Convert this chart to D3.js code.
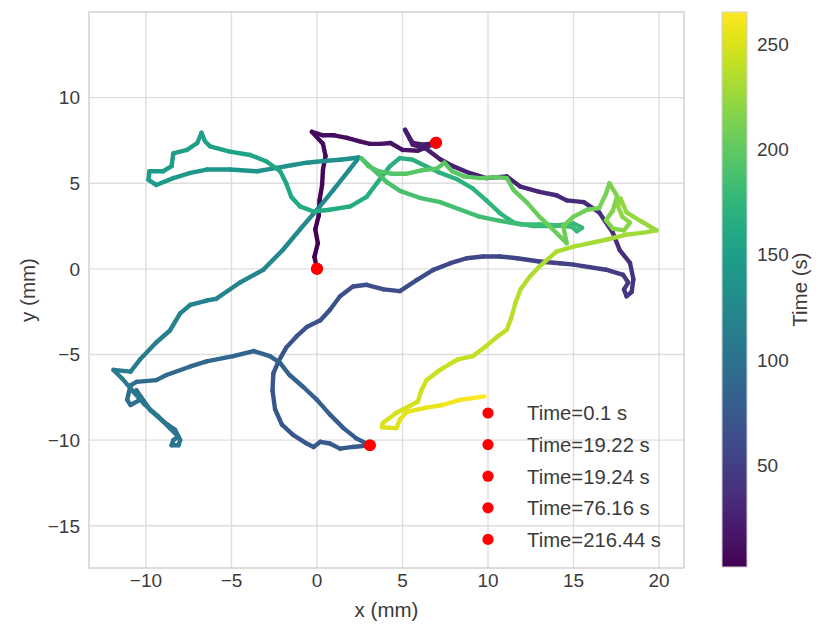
<!DOCTYPE html>
<html>
<head>
<meta charset="utf-8">
<script src="https://cdn.jsdelivr.net/npm/d3@7"></script>
<style>
  body { margin: 0; background: #fff; }
  text { font-family: "Liberation Sans", Arial, sans-serif; fill: #3b3b3b; }
</style>
</head>
<body>
<div id="chart"></div>
<script>
'use strict';

// trajectory (time in s, position in mm)
var pathT = [0.1, 0.9, 1.7, 2.5, 3.3, 4.1, 4.9, 5.7, 6.5, 7.3, 8.1, 8.9, 9.7, 10.5, 11.3, 12.1, 12.9, 13.7, 14.7, 16.0,
  17.4, 19.22, 19.24, 20.0, 20.6, 21.2, 21.9, 22.7, 23.7, 24.7, 25.8, 26.8, 27.9, 29.0, 30.2, 31.4, 32.4, 33.6, 35.0, 36.6,
  38.0, 39.4, 40.8, 42.0, 42.8, 43.6, 44.6, 46.0, 48.0, 50.5, 51.8, 53.2, 54.8, 56.0, 57.2, 58.4, 59.6, 60.8, 62.0, 63.0,
  63.9, 64.8, 65.6, 66.4, 67.2, 67.9, 68.6, 69.2, 69.8, 70.4, 71.0, 71.6, 72.2, 72.8, 73.4, 74.0, 74.4, 74.8, 75.2, 75.5,
  75.8, 76.16, 77.2, 78.3, 79.4, 80.5, 81.6, 82.7, 83.7, 84.6, 85.8, 87.2, 89.0, 90.2, 91.8, 92.6, 93.8, 94.4, 95.4, 96.0,
  96.6, 97.2, 98.6, 99.8, 101.0, 102.0, 102.6, 103.2, 103.8, 104.4, 105.4, 106.6, 107.8, 109.0, 110.0, 110.8, 111.6, 112.6, 114.0, 115.2,
  116.4, 117.4, 118.6, 119.2, 121.0, 122.6, 124.0, 125.4, 126.8, 128.0, 129.4, 130.4, 131.8, 133.0, 134.2, 135.2, 136.2, 137.6, 139.4, 141.0,
  142.2, 143.4, 144.6, 145.2, 145.8, 146.6, 147.2, 148.0, 149.0, 149.8, 150.5, 151.1, 151.6, 153.0, 154.4, 155.6, 156.8, 157.8, 158.8, 159.8,
  160.8, 162.0, 163.4, 164.6, 165.6, 166.8, 167.6, 168.4, 169.2, 170.0, 171.0, 172.0, 173.0, 174.0, 175.0, 176.2, 177.4, 178.6, 179.2, 179.8,
  180.4, 181.4, 182.2, 183.2, 184.2, 185.2, 186.2, 187.2, 188.2, 189.2, 189.9, 190.6, 191.3, 192.0, 192.8, 193.8, 194.8, 195.8, 196.8, 197.4,
  198.0, 198.8, 199.8, 200.8, 201.5, 202.3, 203.3, 204.3, 205.3, 206.3, 207.2, 208.0, 209.0, 210.0, 211.5, 212.5, 213.8, 215.0, 216.0, 216.44,
  217.8, 218.8, 219.8, 220.8, 221.6, 222.6, 224.0, 225.4, 226.6, 227.8, 229.2, 231.0, 232.2, 233.6, 234.6, 235.6, 236.6, 237.6, 238.4, 239.4,
  240.4, 241.6, 242.6, 243.8, 245.0, 246.0, 247.0, 248.0, 249.0, 250.2, 250.8, 251.8, 252.6, 253.4, 255.5, 258.0, 260.5, 263.0, 265.2];
var pathX = [0, -0.15, 0.05, -0.1, 0.1, 0.15, 0.3, 0.35, 0.5, 0.35, -0.3, 0.35, 1.0, 1.75, 2.5, 3.1, 3.7, 4.3, 5.0, 5.9,
  6.4, 6.96, 6.96, 6.2, 5.6, 5.15, 5.6, 6.4, 7.2, 7.95, 8.9, 9.9, 11.1, 11.9, 13.0, 14.0, 14.6, 15.6, 16.5, 17.3,
  17.7, 18.3, 18.5, 18.4, 18.1, 17.95, 18.2, 17.9, 16.9, 15.0, 14.2, 13.0, 11.7, 10.7, 9.7, 8.75, 7.8, 6.8, 5.85, 4.85,
  3.9, 2.9, 2.1, 1.35, 0.75, 0.2, -0.6, -1.2, -1.8, -2.25, -2.55, -2.6, -2.45, -2.05, -1.4, -0.6, -0.2, 0.2, 0.75, 1.35,
  2.1, 3.1, 2.3, 1.55, 0.75, 0.0, -0.8, -1.6, -2.15, -2.75, -3.7, -4.9, -6.45, -7.4, -8.8, -9.4, -10.55, -10.9, -11.1, -10.9,
  -10.35, -10.55, -9.75, -9.0, -8.3, -8.0, -8.1, -8.5, -8.4, -8.1, -8.6, -9.3, -10.1, -10.8, -11.4, -11.9, -10.9, -10.35, -9.4, -8.6,
  -8.0, -7.4, -6.45, -5.9, -4.5, -3.15, -2.0, -1.0, 0.0, 0.95, 1.9, 2.45, 1.35, 0.4, -0.6, -1.5, -2.35, -3.5, -5.1, -6.45,
  -7.4, -8.4, -9.4, -9.85, -9.8, -9.0, -8.5, -8.4, -7.6, -7.0, -6.75, -6.55, -6.25, -5.1, -3.9, -2.95, -2.15, -1.8, -1.5, -1.0,
  -0.2, 0.75, 1.95, 2.9, 3.5, 4.27, 4.85, 5.6, 6.4, 7.1, 8.15, 9.1, 9.9, 10.7, 11.5, 12.65, 13.8, 15.0, 15.5, 15.2,
  14.9, 13.9, 13.0, 11.9, 10.7, 9.5, 8.4, 7.2, 6.0, 4.85, 4.1, 3.3, 2.6, 3.0, 3.6, 4.4, 5.2, 6.1, 7.0, 7.45,
  7.9, 8.6, 9.5, 10.5, 11.1, 11.5, 12.3, 13.0, 13.8, 14.6, 14.4, 15.0, 15.8, 16.5, 16.9, 17.1, 17.55, 17.3, 16.9, 17.3,
  17.95, 18.3, 17.85, 17.6, 17.75, 18.1, 19.0, 19.85, 19.0, 18.1, 16.9, 15.0, 14.0, 13.0, 12.45, 11.9, 11.6, 11.35, 11.1, 10.5,
  9.9, 9.1, 8.2, 7.2, 6.4, 6.1, 5.9, 5.25, 4.65, 3.85, 3.8, 4.65, 4.85, 5.25, 6.4, 7.35, 8.35, 9.1, 9.8];
var pathY = [0, 0.7, 1.5, 2.3, 3.1, 4.0, 4.9, 5.8, 6.6, 7.3, 8.0, 7.8, 7.8, 7.65, 7.45, 7.3, 7.3, 7.35, 6.95, 6.9,
  7.1, 7.36, 7.36, 7.25, 7.35, 8.12, 7.25, 7.0, 6.4, 6.0, 5.6, 5.3, 5.4, 4.8, 4.5, 4.3, 4.0, 3.9, 3.3, 2.1,
  1.1, 0.35, -0.6, -1.35, -1.6, -1.2, -0.8, -0.35, -0.05, 0.25, 0.33, 0.43, 0.62, 0.72, 0.72, 0.62, 0.33, -0.06, -0.64, -1.3,
  -1.2, -0.93, -1.03, -1.6, -2.4, -3.0, -3.4, -3.95, -4.6, -5.4, -6.1, -7.1, -8.2, -9.1, -9.7, -10.2, -10.4, -10.1, -10.2, -10.5,
  -10.4, -10.3, -9.9, -9.3, -8.5, -7.65, -6.9, -6.2, -5.5, -5.1, -4.8, -5.1, -5.4, -5.7, -6.2, -6.5, -6.6, -6.8, -7.65, -7.95,
  -7.65, -7.1, -8.25, -8.9, -9.4, -10.0, -10.3, -10.3, -10.0, -9.8, -9.3, -8.6, -7.9, -7.1, -6.4, -5.9, -6.0, -5.3, -4.3, -3.6,
  -2.6, -2.1, -1.85, -1.75, -0.8, -0.06, 1.1, 2.3, 3.45, 4.6, 5.8, 6.5, 6.37, 6.3, 6.2, 6.05, 5.9, 5.7, 5.8, 5.8,
  5.6, 5.3, 4.9, 5.2, 5.7, 5.7, 6.0, 6.75, 6.95, 7.35, 7.95, 7.45, 7.15, 6.85, 6.65, 6.27, 5.7, 5.0, 4.2, 3.65,
  3.35, 3.45, 3.65, 4.2, 5.0, 6.0, 6.47, 6.37, 5.98, 5.65, 5.25, 4.7, 4.0, 3.25, 2.7, 2.5, 2.5, 2.65, 2.4, 2.2,
  2.45, 2.55, 2.6, 2.6, 2.8, 3.05, 3.45, 3.9, 4.15, 4.55, 5.05, 5.8, 6.45, 6.0, 5.7, 5.55, 5.55, 5.75, 5.85, 6.2,
  5.7, 5.4, 5.3, 5.35, 5.3, 4.6, 3.85, 3.05, 2.3, 1.5, 2.5, 3.05, 3.45, 3.55, 4.4, 5.0, 4.25, 3.4, 2.85, 2.35,
  2.25, 2.7, 3.05, 3.65, 4.1, 3.3, 2.75, 2.25, 2.1, 2.0, 1.7, 1.3, 1.0, 0.13, -0.45, -1.2, -2.0, -2.9, -3.55, -4.0,
  -4.5, -5.1, -5.3, -5.9, -6.5, -7.1, -7.75, -8.1, -8.4, -9.0, -9.25, -9.3, -8.8, -8.35, -8.1, -7.95, -7.65, -7.55, -7.45];

// marked instants
var eventT = [0.1, 19.22, 19.24, 76.16, 216.44];
var eventX = [0, 6.96, 6.96, 3.1, 0];
var eventY = [0, 7.36, 7.36, -10.3, 0];

var xTicks = [-10, -5, 0, 5, 10, 15, 20];
var yTicks = [-15, -10, -5, 0, 5, 10];
var cTicks = [50, 100, 150, 200, 250];
var xLimits = [-13.33, 21.46];
var yLimits = [-17.47, 15.0];
var cLimits = [1.7, 265.2];

var width = 820;
var height = 628;
var plot = { left: 89, right: 684, top: 12, bottom: 568 };
var cbar = { left: 722, right: 747, top: 12, bottom: 567 };

var x = d3.scaleLinear().domain(xLimits).range([plot.left, plot.right]);
var y = d3.scaleLinear().domain(yLimits).range([plot.bottom, plot.top]);
var color = d3.scaleSequential(d3.interpolateViridis).domain(cLimits);
var c = d3.scaleLinear().domain(cLimits).range([cbar.bottom, cbar.top]);
var fmt = d3.format('');

var svg = d3.select('#chart').append('svg').attr('width', width).attr('height', height);

// grid
svg.append('g').selectAll('line').data(xTicks).enter().append('line')
  .attr('x1', function (d) { return x(d); }).attr('x2', function (d) { return x(d); })
  .attr('y1', plot.top).attr('y2', plot.bottom)
  .attr('stroke', '#dedede').attr('stroke-width', 1.4);
svg.append('g').selectAll('line').data(yTicks).enter().append('line')
  .attr('y1', function (d) { return y(d); }).attr('y2', function (d) { return y(d); })
  .attr('x1', plot.left).attr('x2', plot.right)
  .attr('stroke', '#dedede').attr('stroke-width', 1.4);

svg.append('rect').attr('x', plot.left).attr('y', plot.top)
  .attr('width', plot.right - plot.left).attr('height', plot.bottom - plot.top)
  .attr('fill', 'none').attr('stroke', '#cfcfcf').attr('stroke-width', 1.4);

// tick labels
svg.append('g').selectAll('text').data(xTicks).enter().append('text')
  .attr('x', function (d) { return x(d); }).attr('y', 587)
  .attr('text-anchor', 'middle').style('font-size', '19px').text(fmt);
svg.append('g').selectAll('text').data(yTicks).enter().append('text')
  .attr('x', 80).attr('y', function (d) { return y(d); }).attr('dy', '0.36em')
  .attr('text-anchor', 'end').style('font-size', '19px').text(fmt);

svg.append('text').attr('x', (plot.left + plot.right) / 2).attr('y', 617)
  .attr('text-anchor', 'middle').style('font-size', '20.5px').text('x (mm)');
svg.append('text').attr('transform', 'translate(35,' + (plot.top + plot.bottom) / 2 + ') rotate(-90)')
  .attr('text-anchor', 'middle').style('font-size', '20.5px').text('y (mm)');

// trajectory as coloured segments
svg.append('clipPath').attr('id', 'clip').append('rect')
  .attr('x', plot.left).attr('y', plot.top)
  .attr('width', plot.right - plot.left).attr('height', plot.bottom - plot.top);

var segs = d3.range(pathT.length - 1);
svg.append('g').attr('clip-path', 'url(#clip)').selectAll('line').data(segs).enter().append('line')
  .attr('x1', function (i) { return x(pathX[i]); })
  .attr('y1', function (i) { return y(pathY[i]); })
  .attr('x2', function (i) { return x(pathX[i + 1]); })
  .attr('y2', function (i) { return y(pathY[i + 1]); })
  .attr('stroke', function (i) { return color((pathT[i] + pathT[i + 1]) / 2); })
  .attr('stroke-width', 4.4).attr('stroke-linecap', 'round');

svg.append('g').selectAll('circle').data(eventT).enter().append('circle')
  .attr('cx', function (d, i) { return x(eventX[i]); })
  .attr('cy', function (d, i) { return y(eventY[i]); })
  .attr('r', 6).attr('fill', '#ff0000');

// legend
var legend = svg.append('g').attr('transform', 'translate(488,413)');
var rows = legend.selectAll('g').data(eventT).enter().append('g')
  .attr('transform', function (d, i) { return 'translate(0,' + i * 31.6 + ')'; });
rows.append('circle').attr('r', 5.6).attr('fill', '#ff0000');
rows.append('text').attr('x', 39).attr('dy', '0.36em').style('font-size', '20.3px')
  .text(function (d) { return 'Time=' + d + ' s'; });

// colorbar
var defs = svg.append('defs');
var grad = defs.append('linearGradient').attr('id', 'vir')
  .attr('x1', 0).attr('y1', 1).attr('x2', 0).attr('y2', 0);
grad.selectAll('stop').data(d3.range(0, 1.0001, 0.05)).enter().append('stop')
  .attr('offset', function (d) { return d; })
  .attr('stop-color', function (d) { return d3.interpolateViridis(d); });
svg.append('rect').attr('x', cbar.left).attr('y', cbar.top)
  .attr('width', cbar.right - cbar.left).attr('height', cbar.bottom - cbar.top)
  .attr('fill', 'url(#vir)').attr('stroke', '#d0d0d0').attr('stroke-width', 1);
svg.append('g').selectAll('text').data(cTicks).enter().append('text')
  .attr('x', 757).attr('y', function (d) { return c(d); }).attr('dy', '0.36em')
  .style('font-size', '19px').text(fmt);
svg.append('text').attr('transform', 'translate(807,' + (cbar.top + cbar.bottom) / 2 + ') rotate(-90)')
  .attr('text-anchor', 'middle').style('font-size', '20.5px').text('Time (s)');
</script>
</body>
</html>
